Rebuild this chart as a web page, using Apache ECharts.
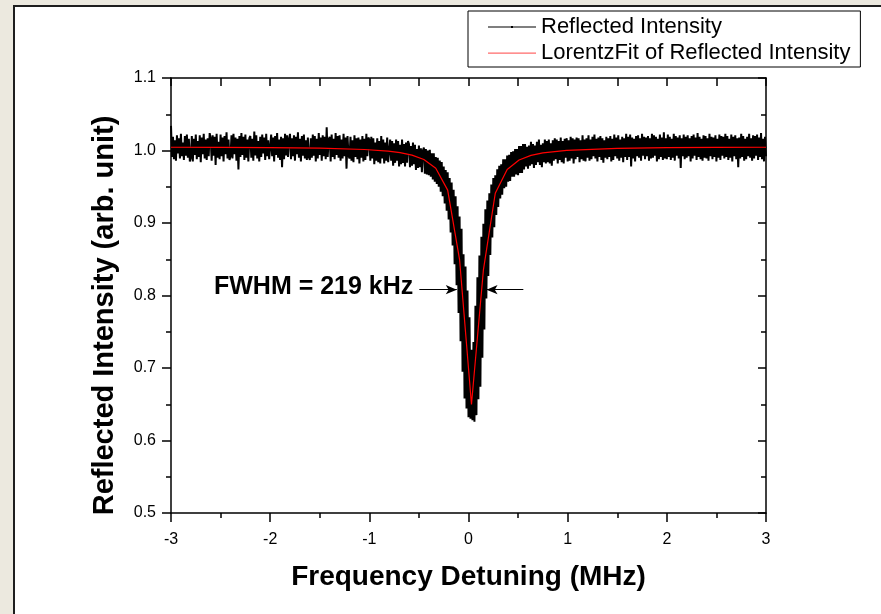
<!DOCTYPE html>
<html>
<head>
<meta charset="utf-8">
<script src="https://cdn.jsdelivr.net/npm/echarts@6/dist/echarts.min.js"></script>
<style>
  html, body { margin: 0; padding: 0; width: 881px; height: 614px; overflow: hidden; background: #ece9df; }
  #frame { position: absolute; left: 13px; top: 5px; width: 900px; height: 700px; background: #fff; border: 2px solid #1e1e1e; }
  #chart { position: absolute; left: 0; top: 0; width: 881px; height: 614px; }
</style>
</head>
<body>
<div id="frame"></div>
<div id="chart"></div>
<script>
// measured reflection, sampled every 10 kHz from -3 MHz to +3 MHz
const detuningStart = -3
const detuningStep = 0.01
const reflected = [
  1.034,0.991,1.019,0.988,1.014,0.986,1.021,0.996,1.017,0.989,1.023,0.992,1.011,0.987,1.020,0.993,1.022,0.990,1.016,0.985,
  0.990,1.020,0.985,1.016,0.994,1.022,0.988,1.013,0.991,1.021,0.984,1.018,0.995,1.023,0.989,1.015,0.987,1.017,0.992,1.024,
  1.017,0.986,1.021,0.993,1.019,0.980,1.023,0.990,1.012,0.988,1.022,0.992,1.018,0.985,1.020,0.995,1.025,0.989,1.015,0.987,
  0.992,1.021,0.989,1.023,0.995,1.018,0.986,1.016,0.974,1.020,0.991,1.024,0.994,1.019,0.987,1.022,0.990,1.015,0.985,1.017,
  1.020,0.990,1.016,0.986,1.026,0.993,1.021,0.989,1.013,0.985,1.019,0.991,1.022,0.996,1.018,0.987,1.023,0.992,1.014,0.988,
  0.989,1.022,0.992,1.018,0.985,1.020,0.994,1.024,0.990,1.015,0.987,1.019,0.977,1.017,0.988,1.023,0.993,1.021,0.991,1.016,
  1.023,0.988,1.017,0.992,1.021,0.986,1.019,0.995,1.025,0.990,1.016,0.985,1.020,0.993,1.022,0.989,1.014,0.987,1.018,0.991,
  0.987,1.017,0.990,1.022,0.993,1.020,0.985,1.016,0.989,1.024,0.994,1.018,0.986,1.021,0.992,1.019,0.988,1.032,0.991,1.015,
  1.019,0.985,1.022,0.991,1.016,0.988,1.024,0.994,1.020,0.990,1.021,0.986,1.015,0.989,1.023,0.992,1.018,0.975,1.020,0.993,
  0.989,1.019,0.986,1.014,0.984,1.021,0.991,1.017,0.988,1.018,0.982,1.015,0.990,1.020,0.985,1.016,0.987,1.023,0.992,1.018,
  1.015,0.986,1.019,0.989,1.017,0.981,1.011,0.986,1.017,0.984,1.013,0.982,1.020,0.989,1.015,0.982,1.011,0.986,1.018,0.984,
  0.982,1.015,0.986,1.013,0.979,1.010,0.983,1.015,0.986,1.013,0.978,1.008,0.981,1.015,0.983,1.009,0.978,1.011,0.983,1.013,
  1.009,0.977,1.006,0.979,1.011,0.981,1.008,0.973,1.002,0.976,1.007,0.977,1.003,0.970,1.000,1.004,0.968,1.002,0.967,1.000,
  0.966,1.001,0.964,0.996,0.960,0.996,0.957,0.991,0.954,0.990,0.950,0.986,0.943,0.984,0.937,0.978,0.927,0.973,0.917,0.970,
  0.905,0.962,0.887,0.956,0.869,0.946,0.843,0.937,0.814,0.923,0.776,0.909,0.737,0.892,0.695,0.857,0.658,0.840,0.644,0.807,
  0.632,0.770,0.630,0.725,0.628,0.736,0.626,0.786,0.635,0.825,0.657,0.855,0.674,0.881,0.714,0.899,0.753,0.919,0.796,0.931,
  0.827,0.941,0.856,0.953,0.880,0.962,0.894,0.966,0.911,0.974,0.922,0.979,0.934,0.981,0.939,0.988,0.948,0.988,0.950,0.993,
  0.957,0.994,0.958,0.998,0.964,0.999,0.964,1.002,0.967,1.002,0.966,1.006,0.969,1.006,0.969,1.009,0.974,1.009,0.978,1.005,
  0.975,1.007,0.979,1.012,0.981,1.009,0.976,1.007,0.980,1.012,0.984,1.015,0.980,1.008,0.977,1.010,0.984,1.015,0.982,1.013,
  0.984,1.015,0.982,1.010,0.979,1.014,0.986,1.017,0.988,1.015,0.982,1.013,0.987,1.018,0.984,1.013,0.982,1.016,0.990,1.017,
  0.985,1.014,0.986,1.019,0.989,1.017,0.982,1.015,0.988,1.018,0.991,1.017,0.984,1.014,0.988,1.021,0.986,1.015,0.985,1.017,
  0.990,1.021,0.986,1.015,0.988,1.019,0.992,1.022,0.989,1.016,0.985,1.018,0.991,1.020,0.987,1.017,0.983,1.014,0.990,1.019,
  0.988,1.017,0.991,1.020,0.985,1.016,0.987,1.022,0.992,1.018,0.989,1.021,0.986,1.015,0.990,1.019,0.984,1.017,0.991,1.023,
  0.987,1.019,0.991,1.022,0.978,1.018,0.989,1.016,0.985,1.020,0.992,1.021,0.990,1.017,0.986,1.023,0.993,1.019,0.988,1.018,
  0.992,1.020,0.986,1.017,0.989,1.023,0.990,1.021,0.993,1.019,0.985,1.016,0.988,1.022,0.991,1.018,0.987,1.025,0.989,1.017,
  0.988,1.022,0.991,1.019,0.987,1.016,0.990,1.023,0.986,1.020,0.993,1.018,0.989,1.021,0.976,1.017,0.992,1.022,0.988,1.019,
  0.990,1.021,0.992,1.017,0.985,1.020,0.989,1.022,0.993,1.018,0.987,1.024,0.991,1.019,0.988,1.016,0.986,1.021,0.990,1.020,
  0.989,1.017,0.986,1.023,0.992,1.019,0.988,1.018,0.991,1.021,0.985,1.016,0.990,1.022,0.987,1.020,0.993,1.019,0.989,1.023,
  0.991,1.020,0.987,1.016,0.990,1.022,0.985,1.019,0.992,1.021,0.988,1.017,0.977,1.018,0.989,1.023,0.991,1.020,0.986,1.016,
  0.988,1.019,0.992,1.023,0.990,1.017,0.986,1.021,0.989,1.020,0.993,1.022,0.987,1.018,0.991,1.024,0.988,1.016,0.985,1.019,
  0.992
]

// Lorentz fit curve as drawn (coarse sampling)
const fitDetuning = [-3, -2.5, -2, -1.5, -1.05, -0.81, -0.69, -0.57, -0.45, -0.33, -0.21, -0.09, 0.03, 0.15, 0.27, 0.39, 0.51, 0.63, 0.75, 0.99, 1.5, 2, 2.5, 3]
const fitIntensity = [1.0045, 1.0043, 1.004, 1.0032, 1.0014, 0.9991, 0.997, 0.9936, 0.9876, 0.9754, 0.9453, 0.8496, 0.6497, 0.8349, 0.941, 0.9738, 0.9869, 0.9932, 0.9968, 1.0003, 1.003, 1.004, 1.0043, 1.0045]

// FWHM arrows (start, tip) in data units
const fwhmLevel = 0.808
const fwhmLeftArrow = [-0.496, -0.118]
const fwhmRightArrow = [0.553, 0.182]
const fwhmText = 'FWHM = 219 kHz'

const xTicks = { min: -3, max: 3, interval: 1 }
const yTicks = { min: 0.5, max: 1.1, interval: 0.1 }

const seriesNames = ['Reflected Intensity', 'LorentzFit of Reflected Intensity']

const measured = reflected.map((v, i) => [detuningStart + i * detuningStep, v])
const fitted = fitDetuning.map((x, i) => [x, fitIntensity[i]])

const font = 'Arial, "Liberation Sans", sans-serif'
const axisLine = { onZero: false, lineStyle: { color: '#000', width: 1.5 } }
const tickStyle = { color: '#000', width: 1.5 }

const chart = echarts.init(document.getElementById('chart'), null, { renderer: 'canvas' })
chart.setOption({
  animation: false,
  textStyle: { fontFamily: font, color: '#000' },
  grid: { left: 171, top: 78, width: 595, height: 435, containLabel: false },
  legend: {
    left: 468, top: 11,
    orient: 'vertical',
    backgroundColor: '#fff',
    borderColor: '#000', borderWidth: 1,
    padding: [5, 10, 3, 20],
    itemGap: 4,
    itemWidth: 48, itemHeight: 14,
    textStyle: { fontSize: 22, color: '#000', fontFamily: font },
    data: [
      { name: seriesNames[0], icon: 'path://M0,3.5h48v1h-48z M23,3h2v2h-2z', itemStyle: { color: '#000' } },
      { name: seriesNames[1], icon: 'path://M0,3.5h48v1.2h-48z M0,0h0.01v8h-0.01z', itemStyle: { color: '#ff6b6b' } }
    ]
  },
  xAxis: [
    {
      type: 'value', position: 'bottom', ...xTicks,
      name: 'Frequency Detuning (MHz)', nameLocation: 'middle', nameGap: 50,
      nameTextStyle: { fontSize: 28, fontWeight: 'bold', color: '#000', fontFamily: font },
      axisLine,
      axisTick: { length: 9, lineStyle: tickStyle },
      minorTick: { show: true, splitNumber: 2, length: 5, lineStyle: tickStyle },
      splitLine: { show: false },
      axisLabel: { fontSize: 16, color: '#000', margin: 19, fontFamily: font }
    },
    {
      type: 'value', position: 'top', ...xTicks,
      axisLine,
      axisTick: { inside: true, length: 8, lineStyle: tickStyle },
      minorTick: { show: true, splitNumber: 2, length: 8, lineStyle: tickStyle },
      splitLine: { show: false },
      axisLabel: { show: false }
    }
  ],
  yAxis: [
    {
      type: 'value', position: 'left', ...yTicks,
      name: 'Reflected Intensity (arb. unit)', nameLocation: 'middle', nameGap: 52,
      nameTextStyle: { fontSize: 29, fontWeight: 'bold', color: '#000', fontFamily: font, padding: [0, 40, 0, 0] },
      axisLine,
      axisTick: { length: 9, lineStyle: tickStyle },
      minorTick: { show: true, splitNumber: 2, length: 5, lineStyle: tickStyle },
      splitLine: { show: false },
      axisLabel: { fontSize: 16, color: '#000', margin: 15, fontFamily: font, formatter: v => v.toFixed(1) }
    },
    {
      type: 'value', position: 'right', ...yTicks,
      axisLine,
      axisTick: { inside: true, length: 8, lineStyle: tickStyle },
      minorTick: { show: true, splitNumber: 2, length: 5, lineStyle: tickStyle },
      splitLine: { show: false },
      axisLabel: { show: false }
    }
  ],
  series: [
    {
      name: seriesNames[0], type: 'line', data: measured,
      xAxisIndex: 0, yAxisIndex: 0,
      showSymbol: false, symbol: 'circle', symbolSize: 2,
      lineStyle: { color: '#000', width: 2 },
      itemStyle: { color: '#000' },
      z: 2
    },
    {
      name: seriesNames[1], type: 'line', data: fitted,
      xAxisIndex: 0, yAxisIndex: 0,
      showSymbol: false, symbol: 'none',
      lineStyle: { color: '#ff0000', width: 1.2 },
      itemStyle: { color: '#ff0000' },
      z: 3,
      markLine: {
        silent: true,
        symbol: ['none', 'arrow'],
        symbolSize: [7, 11],
        lineStyle: { color: '#000', width: 1, type: 'solid' },
        data: [
          [
            { coord: [fwhmLeftArrow[0], fwhmLevel],
              label: { show: true, position: 'start', formatter: fwhmText, fontSize: 25, fontWeight: 'bold', color: '#000', fontFamily: font, distance: 6, offset: [0, -3] } },
            { coord: [fwhmLeftArrow[1], fwhmLevel] }
          ],
          [
            { coord: [fwhmRightArrow[0], fwhmLevel], label: { show: false } },
            { coord: [fwhmRightArrow[1], fwhmLevel] }
          ]
        ]
      }
    }
  ]
})
</script>
</body>
</html>
